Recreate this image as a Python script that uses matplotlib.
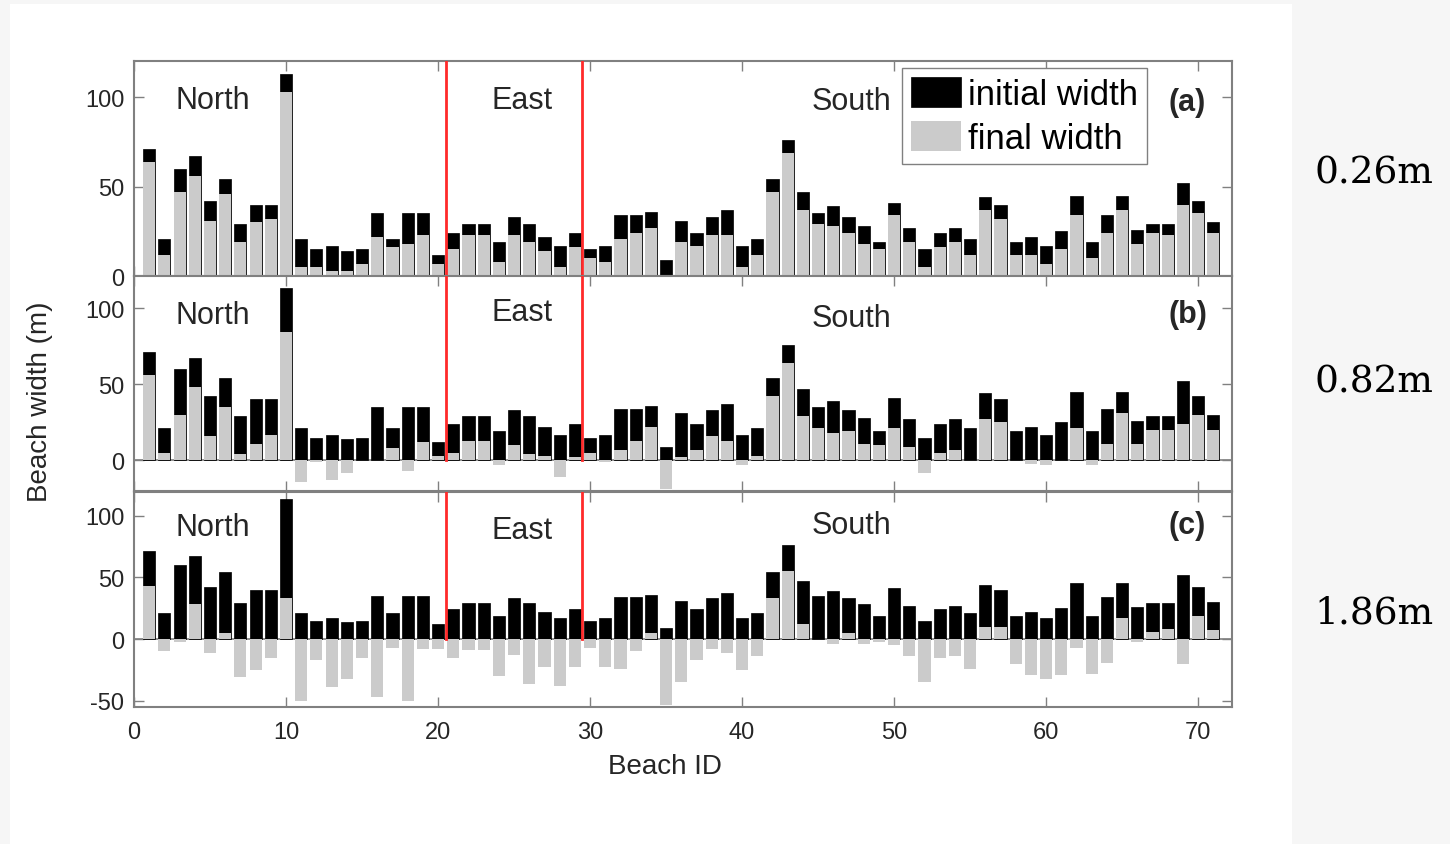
import numpy as np
import matplotlib
matplotlib.use("Agg")
import matplotlib.pyplot as plt
from matplotlib.patches import Rectangle

plt.rcParams['font.family'] = ['Liberation Sans', 'DejaVu Sans']
plt.rcParams['axes.unicode_minus'] = False

## beach widths (m), beach 1..71
beach_id = np.arange(1, 72)
initial_width = [71, 21, 60, 67, 42, 54, 29, 40, 40, 113,
                 21, 15, 17, 14, 15, 35, 21, 35, 35, 12,
                 24, 29, 29, 19, 33, 29, 22, 17, 24, 15,
                 17, 34, 34, 36, 9, 31, 24, 33, 37, 17,
                 21, 54, 76, 47, 35, 39, 33, 28, 19, 41,
                 27, 15, 24, 27, 21, 44, 40, 19, 22, 17,
                 25, 45, 19, 34, 45, 26, 29, 29, 52, 42, 30]
final_026 = [64, 12, 47, 56, 31, 46, 19, 30, 32, 103,
             5, 5, 3, 3, 7, 22, 16, 18, 23, 7,
             15, 23, 23, 8, 23, 19, 14, 5, 16, 10,
             8, 21, 24, 27, 0, 19, 17, 23, 23, 5,
             12, 47, 69, 37, 29, 28, 24, 18, 15, 34,
             19, 5, 16, 19, 12, 37, 32, 12, 12, 7,
             15, 34, 10, 24, 37, 18, 24, 23, 40, 35, 24]
final_082 = [56, 5, 30, 48, 16, 35, 4, 11, 17, 84,
             -14, -1, -13, -8, 0, 0, 8, -7, 12, 3,
             5, 13, 13, -3, 10, 4, 3, -11, 2, 5,
             -1, 7, 13, 22, -19, 2, 7, 16, 13, -3,
             3, 42, 64, 29, 21, 18, 19, 11, 10, 21,
             9, -8, 5, 7, 0, 27, 25, 0, -2, -3,
             0, 21, -3, 11, 31, 11, 20, 20, 24, 30, 20]
final_186 = [43, -10, -2, 28, -11, 5, -31, -25, -15, 33,
             -50, -17, -39, -32, -15, -47, -7, -50, -8, -8,
             -15, -9, -9, -30, -13, -36, -23, -38, -23, -7,
             -23, -24, -10, 5, -53, -35, -17, -8, -11, -25,
             -14, 33, 55, 12, 0, -4, 5, -4, -2, -5,
             -14, -35, -15, -14, -24, 10, 10, -20, -29, -32,
             -29, -7, -28, -19, 17, -2, 6, 8, -20, 19, 7]

finals = [final_026, final_082, final_186]
panel_tags = ['(a)', '(b)', '(c)']
slr_labels = ['0.26m', '0.82m', '1.86m']
region_names = ['North', 'East', 'South']
region_x = [5.2, 25.5, 47.2]
region_y = [[98.5, 98.5, 97.5], [95.5, 97.5, 93.5], [91, 88, 92]]
tag_y = [97, 96, 92.5]
ylims = [(0, 120), (-20, 121), (-55, 119)]
yticks = [[0, 50, 100], [0, 50, 100], [-50, 0, 50, 100]]
boundaries = [20.5, 29.5]

axis_grey = '#808080'
text_grey = '#262626'
bar_grey = '#cbcbcb'

fig = plt.figure(figsize=(14.5, 8.45), dpi=100)
fig.patch.set_facecolor('#f6f6f6')
# white slide area behind the chart
fig.patches.append(Rectangle((10 / 1450, 0), 1282 / 1450, 1 - 5 / 845,
                             transform=fig.transFigure, facecolor='white',
                             edgecolor='none', zorder=-10))

left, width, height = 0.0924, 0.757, 0.2544
bottoms = [0.672, 0.4178, 0.1621]

axes = []
for i in range(3):
    ax = fig.add_axes([left, bottoms[i], width, height])
    axes.append(ax)
    ax.bar(beach_id, initial_width, width=0.8, color='black', edgecolor='black',
           linewidth=0.5, zorder=2, label='initial width')
    ax.bar(beach_id, finals[i], width=0.8, color=bar_grey, edgecolor='none',
           zorder=3, label='final width')
    if i > 0:
        ax.axhline(0, color=axis_grey, linewidth=1.2, zorder=1.5)
    for xb in boundaries:
        ax.plot([xb, xb], [0, ylims[i][1]], color='#ff2a2a', linewidth=2, zorder=4)
    ax.set_xlim(0, 72.2)
    ax.set_ylim(*ylims[i])
    ax.set_xticks(np.arange(0, 71, 10))
    ax.set_yticks(yticks[i])
    ax.tick_params(direction='in', top=True, right=True, length=7, width=1,
                   color=axis_grey, labelcolor=text_grey, labelsize=17, pad=7)
    ax.tick_params(axis='x', pad=10)
    for sp in ax.spines.values():
        sp.set_color(axis_grey)
        sp.set_linewidth(1.5)
    if i < 2:
        ax.set_xticklabels([])
    for name, xr, yr in zip(region_names, region_x, region_y[i]):
        ax.text(xr, yr, name, fontsize=22, color=text_grey, ha='center', va='center')
    ax.text(69.3, tag_y[i], panel_tags[i], fontsize=22, fontweight='bold',
            color=text_grey, ha='center', va='center')

axes[0].legend(loc='upper left', bbox_to_anchor=(0.700, 0.967), borderaxespad=0,
               fontsize=25, handlelength=1.45, handleheight=0.95, handletextpad=0.2,
               labelspacing=0.3, borderpad=0.25, fancybox=False, framealpha=1,
               edgecolor=axis_grey)

axes[2].set_xlabel('Beach ID', fontsize=20, color=text_grey)
axes[2].xaxis.set_label_coords(0.484, -0.215)
fig.text(0.0276, 0.524, 'Beach width (m)', rotation=90, fontsize=20,
         color=text_grey, ha='center', va='center')

## sea level rise scenario labels on the right
for lab, yy in zip(slr_labels, [173, 383, 613]):
    fig.text(1374 / 1450, 1 - yy / 845, lab, fontsize=27, family='DejaVu Serif',
             color='black', ha='center', va='center')

plt.savefig('out.png', dpi=100, facecolor=fig.get_facecolor())
